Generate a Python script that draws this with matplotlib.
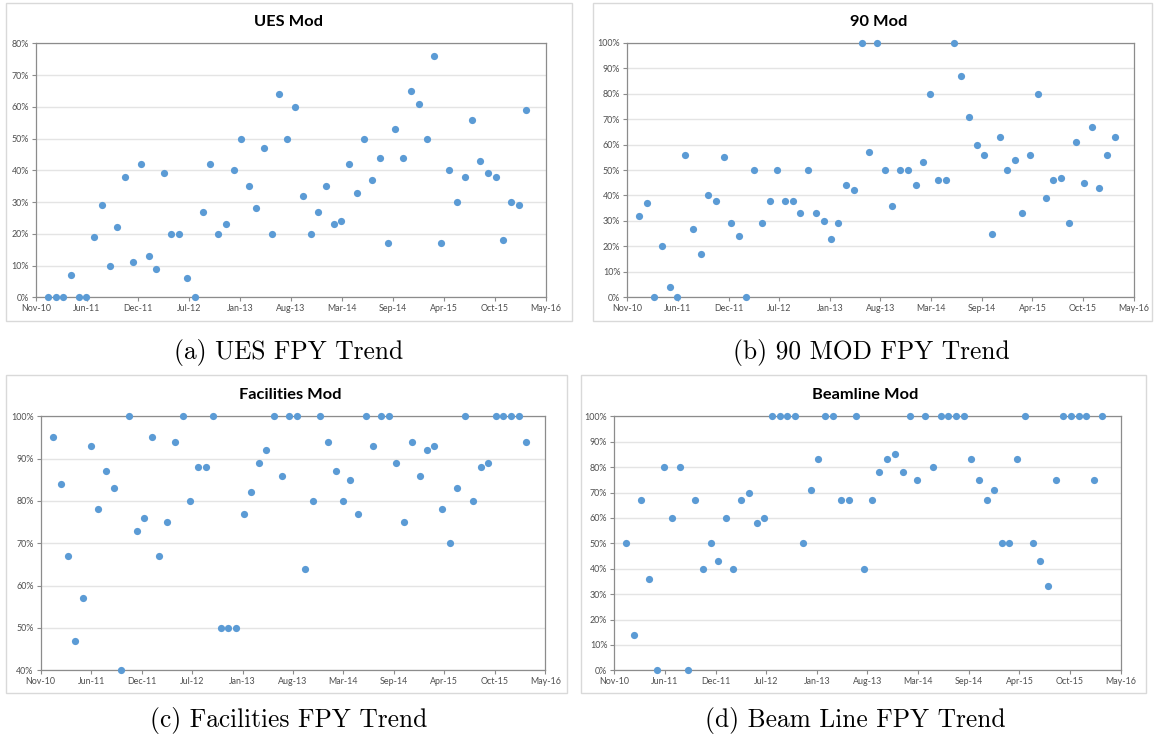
import datetime as dt
import matplotlib
matplotlib.use("Agg")
import matplotlib.pyplot as plt
from matplotlib.patches import Rectangle
from matplotlib.ticker import FuncFormatter, MultipleLocator
import pandas as pd

# Monthly first-pass-yield values (percent), Jan 2011 .. Mar 2016
months = pd.date_range("2011-01-01", periods=63, freq="MS")

ues_fpy = [
    0, 0, 0, 7, 0, 0, 19, 29, 10, 22, 38, 11,
    42, 13, 9, 39, 20, 20, 6, 0, 27, 42, 20, 23,
    40, 50, 35, 28, 47, 20, 64, 50, 60, 32, 20, 27,
    35, 23, 24, 42, 33, 50, 37, 44, 17, 53, 44, 65,
    61, 50, 76, 17, 40, 30, 38, 56, 43, 39, 38, 18,
    30, 29, 59,
]
mod90_fpy = [
    32, 37, 0, 20, 4, 0, 56, 27, 17, 40, 38, 55,
    29, 24, 0, 50, 29, 38, 50, 38, 38, 33, 50, 33,
    30, 23, 29, 44, 42, 100, 57, 100, 50, 36, 50, 50,
    44, 53, 80, 46, 46, 100, 87, 71, 60, 56, 25, 63,
    50, 54, 33, 56, 80, 39, 46, 47, 29, 61, 45, 67,
    43, 56, 63,
]
facilities_fpy = [
    95, 84, 67, 47, 57, 93, 78, 87, 83, 40, 100, 73,
    76, 95, 67, 75, 94, 100, 80, 88, 88, 100, 50, 50,
    50, 77, 82, 89, 92, 100, 86, 100, 100, 64, 80, 100,
    94, 87, 80, 85, 77, 100, 93, 100, 100, 89, 75, 94,
    86, 92, 93, 78, 70, 83, 100, 80, 88, 89, 100, 100,
    100, 100, 94,
]
beamline_fpy = [
    50, 14, 67, 36, 0, 80, 60, 80, 0, 67, 40, 50,
    43, 60, 40, 67, 70, 58, 60, 100, 100, 100, 100, 50,
    71, 83, 100, 100, 67, 67, 100, 40, 67, 78, 83, 85,
    78, 100, 75, 100, 80, 100, 100, 100, 100, 83, 75, 67,
    71, 50, 50, 83, 100, 50, 43, 33, 75, 100, 100, 100,
    100, 75, 100,
]

x_tick_labels = ["Nov-10", "Jun-11", "Dec-11", "Jul-12", "Jan-13", "Aug-13",
                 "Mar-14", "Sep-14", "Apr-15", "Oct-15", "May-16"]

chart_titles = ["UES Mod", "90 Mod", "Facilities Mod", "Beamline Mod"]
captions = ["(a) UES FPY Trend", "(b) 90 MOD FPY Trend",
            "(c) Facilities FPY Trend", "(d) Beam Line FPY Trend"]

W, H = 1156, 744
fig = plt.figure(figsize=(W / 100, H / 100), dpi=100)
fig.patch.set_facecolor("white")

# Date axis: evenly spaced major ticks every 201 days
axis_start = dt.date(2010, 11, 14)
tick_dates = [axis_start + dt.timedelta(days=201 * k) for k in range(len(x_tick_labels))]

UI_FONT = "Lato"
MARKER = "#5B9BD5"
AXIS_COL = "#8C8C8C"
GRID_COL = "#E4E4E4"
TEXT_COL = "#4F4F4F"


def px_axes(l, r, t, b):
    return fig.add_axes([l / W, 1 - b / H, (r - l) / W, (b - t) / H])


def frame(l, r, t, b):
    fig.patches.append(Rectangle((l / W, 1 - b / H), (r - l) / W, (b - t) / H,
                                 transform=fig.transFigure, fill=False,
                                 edgecolor="#D9D9D9", linewidth=1.0))


def panel(box, plot, values, ylo, yhi, title, title_xy):
    frame(*box)
    ax = px_axes(*plot)
    ax.scatter(months, values, s=27, color=MARKER, zorder=5, clip_on=False,
               linewidths=0)
    ax.set_xlim(tick_dates[0], tick_dates[-1])
    ax.set_xticks(tick_dates)
    ax.set_xticklabels(x_tick_labels)
    ax.set_ylim(ylo, yhi)
    ax.yaxis.set_major_locator(MultipleLocator(10))
    ax.yaxis.set_major_formatter(FuncFormatter(lambda v, p: f"{v:.0f}%"))
    ax.grid(axis="y", color=GRID_COL, linewidth=1.0)
    ax.set_axisbelow(True)
    for side in ("left", "bottom", "top", "right"):
        ax.spines[side].set_color(AXIS_COL)
        ax.spines[side].set_linewidth(0.9)
    ax.tick_params(axis="both", length=3, width=0.8, color=AXIS_COL,
                   labelsize=6.4, labelcolor=TEXT_COL, pad=2)
    for lab in ax.get_xticklabels() + ax.get_yticklabels():
        lab.set_fontfamily(UI_FONT)
    fig.text(title_xy[0] / W, 1 - title_xy[1] / H, title, ha="center",
             va="center", fontsize=11.8, fontweight="bold", family=UI_FONT,
             color="black")
    return ax


panel((6, 572, 3, 321), (36, 545.7, 43.3, 297.3), ues_fpy, 0, 80,
      chart_titles[0], (289, 22))
panel((593, 1152, 3, 321), (627.3, 1133.7, 42.7, 297.3), mod90_fpy, 0, 100,
      chart_titles[1], (879, 22))
panel((6, 567, 375, 693), (40.7, 545.3, 416.3, 670.3), facilities_fpy, 40, 100,
      chart_titles[2], (290, 395))
panel((581, 1146, 375, 693), (614.3, 1120.7, 416.3, 670.3), beamline_fpy, 0, 100,
      chart_titles[3], (865, 395))

cap_pos = [(289, 352), (871, 352), (289, 721), (855, 721)]
for (cx, cy), cap in zip(cap_pos, captions):
    fig.text(cx / W, 1 - cy / H, cap, ha="center", va="center", fontsize=18.3,
             family="cmr10", color="black")

fig.savefig("out.png", dpi=100, facecolor="white")
